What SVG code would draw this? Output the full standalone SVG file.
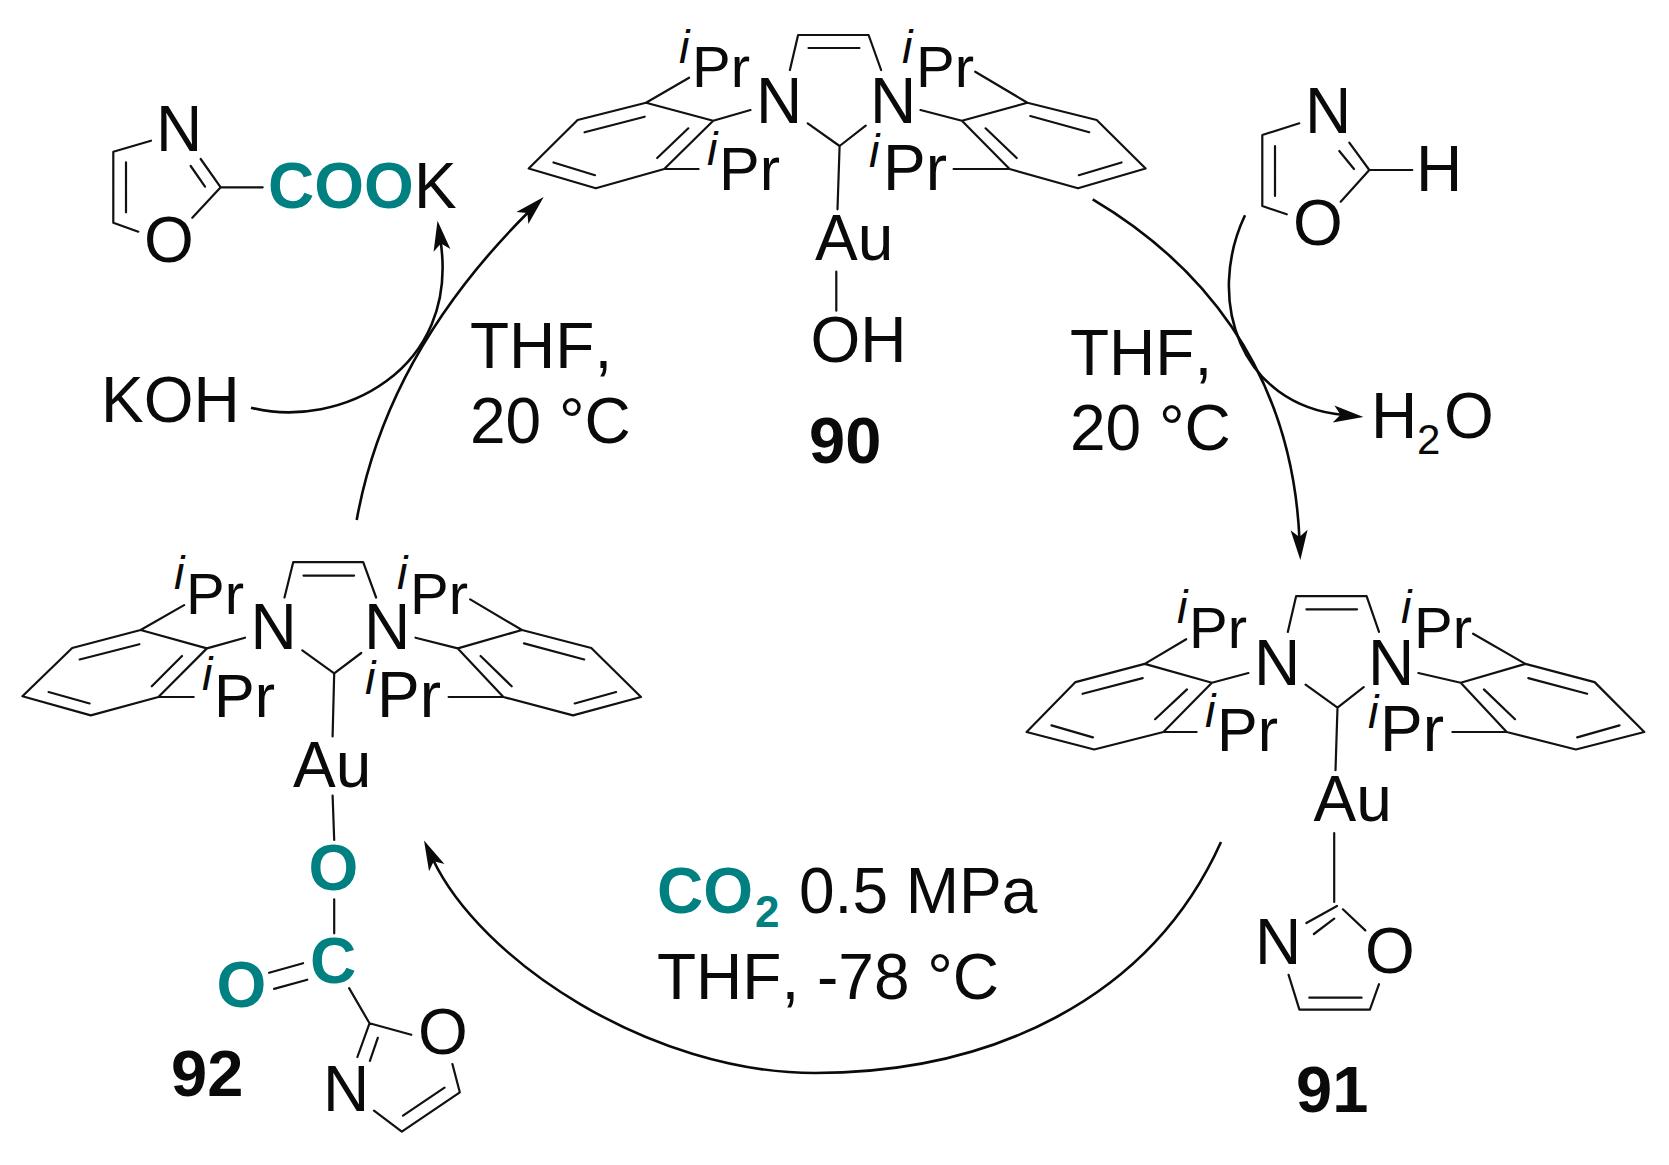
<svg xmlns="http://www.w3.org/2000/svg" width="1669" height="1165" viewBox="0 0 1669 1165">
<style>
text{font-family:"Liberation Sans",Arial,sans-serif;font-size:64px;fill:#0a0a0a;font-kerning:none}
.i{font-style:italic;font-size:47px}
.p{font-size:58px}
.q{font-size:61px}
.b{font-weight:bold;font-size:65px}
.t{font-weight:bold;fill:#008080}
.s{font-size:42px}
.ts{font-weight:bold;fill:#008080;font-size:44px}
.bond{fill:none;stroke:#111;stroke-width:2.2;stroke-linecap:round;stroke-linejoin:round}
.arc{fill:none;stroke:#0a0a0a;stroke-width:2.6;marker-end:url(#head)}
</style>
<defs>
<marker id="head" markerUnits="userSpaceOnUse" markerWidth="32" markerHeight="19" refX="10" refY="8.5" orient="auto" overflow="visible"><path d="M0 0L30 8.5L0 17L7 8.5Z" fill="#0a0a0a"/></marker>
</defs>
<rect width="1669" height="1165" fill="#fff"/>
<g id="connectors">
<path class="arc" d="M356.7 520C380 390 450 290 529.5 211"/>
<path class="arc" d="M251 407.7C340 430 460 370 440.5 240.5"/>
<path class="arc" d="M1092.7 199.3C1195 260 1292 365 1299.5 540"/>
<path class="arc" d="M1245 215.3C1205 300 1240 405 1343.5 415"/>
<path class="arc" d="M1221 842C1150 1000 990 1073 815 1073C650 1073 480 960 432.5 858.5"/>
</g>
<g id="compound-90">
<path class="bond" d="M646 102.7L713.2 120.7L664.2 169L595.8 188.3L528.7 168.5L577.6 120ZM584.6 132.3L644.7 116.7M657.2 158L688.3 128.3M553.5 162.5L595 175.2M646 102.7L689.1 77.7M664.2 169H698.6M713.2 120.7L750.5 110M789.9 70L798.1 35H868.6L881.1 70M808.5 48H859.5M807.7 123.3L839.6 146L865.7 125.7M839.6 146L837.5 209.3M836.3 271.7V310.7M1027.4 102.7L961.9 120.7L1009.6 169L1078 188.3L1145.6 168.5L1096.7 120ZM1030.3 116L1089.2 132.3M985.6 128.3L1016.7 158M1078.8 175.2L1121.5 162.5M1027.4 102.7L975.2 71.7M1009.6 169H953.6M961.9 120.7L920.5 110"/>
<text x="756" y="122.7">N</text><text x="870" y="122.7">N</text>
<text class="i" x="679" y="62.7">i</text><text class="p" x="692" y="87.3">Pr</text>
<text class="i" x="902" y="62.7">i</text><text class="p" x="916" y="87.3">Pr</text>
<text class="i" x="707" y="165">i</text><text class="q" x="719" y="190">Pr</text>
<text class="i" x="869" y="166.7">i</text><text x="883" y="190">Pr</text>
<text x="815" y="260">Au</text>
<text x="810.5" y="361.7">OH</text>
<text class="b" x="809" y="463">90</text>
</g>
<g id="compound-91">
<path class="bond" d="M1144.7 663.9L1211.9 682.8L1163.4 732L1094.2 749.5L1026.6 732L1075.5 682.1ZM1082.6 693.8L1142.7 678.1M1155.1 719.2L1187 689.4M1051.5 725.4L1092.9 737.4M1144.7 663.9L1186.2 639.2M1163.4 732H1196.6M1211.9 682.8L1248.4 673M1287.8 631.9L1296.1 596.2H1366.6L1379 631.9M1306.4 609.3H1357M1305.6 684.7L1337.5 707.6L1363.7 687.2M1337.5 707.6L1335.5 770.2M1525.4 663.9L1460.7 682.8L1506.7 732L1575.9 749.5L1644.3 732L1594.6 682.1ZM1528.3 678.1L1587.1 693.8M1483.9 689.4L1515 719.2M1577.2 737.4L1619.5 725.4M1525.4 663.9L1473.1 633.7M1506.7 732H1452.4M1460.7 682.8L1418.4 673M1334.2 833.2V902M1337 906L1306.4 923M1334.2 918.7L1313.9 934M1342.9 909.3L1365.3 930.4M1288.6 974.8L1299.4 1009.7H1369.9L1379 984.2M1309.3 997.7H1361.6"/>
<text x="1254" y="684.7">N</text><text x="1368" y="684.7">N</text>
<text class="i" x="1177" y="622.8">i</text><text class="p" x="1189" y="648.3">Pr</text>
<text class="i" x="1401" y="622.8">i</text><text class="p" x="1414" y="648.3">Pr</text>
<text class="i" x="1205" y="726.5">i</text><text class="q" x="1217" y="751">Pr</text>
<text class="i" x="1368" y="728">i</text><text x="1380" y="751">Pr</text>
<text x="1313.5" y="821.2">Au</text>
<text x="1255" y="964.2">N</text>
<text x="1365" y="973.3">O</text>
<text class="b" x="1296" y="1112">91</text>
</g>
<g id="compound-92">
<path class="bond" d="M140.6 630L206.9 648.4L158.4 697L90.8 715.4L22.4 696.3L72.2 648ZM79.7 659.5L139.4 644.2M151.8 686.3L182 656M48.6 692L89.6 703.5M140.6 630L184.1 605.1M158.4 697H193.7M206.9 648.4L245 637.7M284.5 597.5L293.2 562.2H363.2L376.1 597.5M303.5 575.6H354.1M302.3 650.3L334.2 673.3L361.2 653M334.2 673.3L332.6 736.5M522 630L457.8 648.4L503.4 697L573 715.4L641 697L591.3 648ZM524 643.4L584.2 659.5M480.6 656L511.7 686.3M574.7 703.5L616.1 692M522 630L470.2 599.4M503.4 697H448.6M457.8 648.4L415.5 637.7M332.6 795.5L334.2 840M334.2 899.3V933.3M269.1 972.8L303.1 963.2M274.1 988.9L307.3 979.7M349.1 988.1L369.5 1023.3L411.3 1034.8M369.5 1023.3L357.4 1057M377.8 1037.9L369.9 1060.9M374 1110.7L401.8 1131.7L459.8 1092.3L452.4 1064M403 1115.7L444.5 1087.7"/>
<text x="250.5" y="649">N</text><text x="364" y="649">N</text>
<text class="i" x="174" y="589">i</text><text class="p" x="186" y="614">Pr</text>
<text class="i" x="397" y="589">i</text><text class="p" x="410" y="614">Pr</text>
<text class="i" x="202" y="690">i</text><text class="q" x="214" y="717">Pr</text>
<text class="i" x="365" y="694">i</text><text x="377" y="717">Pr</text>
<text x="293" y="787">Au</text>
<text class="t" x="308.5" y="890">O</text>
<text class="t" x="310" y="983">C</text>
<text class="t" x="216.5" y="1007">O</text>
<text x="418" y="1054">O</text>
<text x="323" y="1110.7">N</text>
<text class="b" x="171" y="1096">92</text>
</g>
<g id="oxazole-acid">
<path class="bond" d="M151 140.7L113.3 151.7V222.7L138.3 231.7M126 162.3V212.3M200.7 159L220.7 187.3L192.3 217.7M190.7 166L205 186.7M220.7 187.3H262.7"/>
<text x="156" y="151">N</text>
<text x="144" y="261.7">O</text>
<text class="t" x="268" y="208.3">COO</text><text x="414" y="208.3">K</text>
</g>
<g id="oxazole">
<path class="bond" d="M1299.3 123.3L1262.3 135V206L1286.7 214.3M1275 146V196M1349.3 142.7L1369.3 170L1340.7 201.7M1339.3 151L1354 169M1369.3 170H1412.3"/>
<text x="1305" y="133.3">N</text>
<text x="1293" y="245">O</text>
<text x="1416" y="190.7">H</text>
</g>
<g id="koh"><text x="101" y="421.7">KOH</text></g>
<g id="water"><text x="1371" y="438.3">H</text><text class="s" x="1417" y="454">2</text><text x="1444" y="438.3">O</text></g>
<g id="conditions">
<text x="470" y="368.3">THF,</text><text x="470" y="443.3">20 °C</text>
<text x="1070" y="375">THF,</text><text x="1070" y="450">20 °C</text>
<text class="t" x="657" y="912.7">CO</text><text class="ts" x="755" y="927.3">2</text><text x="799" y="912.7">0.5 MPa</text>
<text x="657" y="999.3">THF, -78 °C</text>
</g>
</svg>
